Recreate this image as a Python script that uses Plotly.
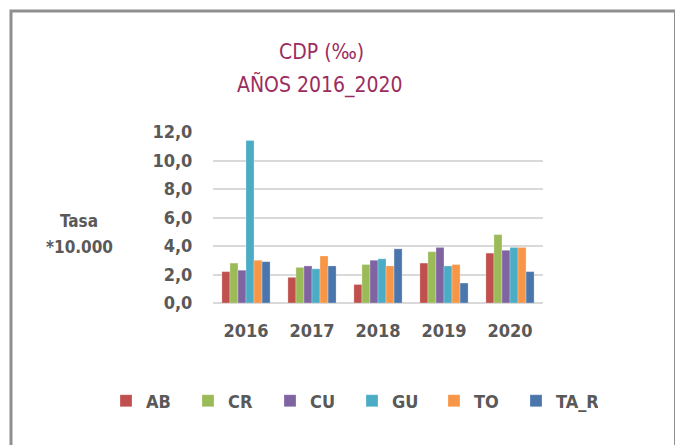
import plotly.graph_objects as go

years = ["2016", "2017", "2018", "2019", "2020"]
AB = [2.2, 1.8, 1.3, 2.8, 3.5]
CR = [2.8, 2.5, 2.7, 3.6, 4.8]
CU = [2.3, 2.6, 3.0, 3.9, 3.7]
GU = [11.4, 2.4, 3.1, 2.6, 3.9]
TO = [3.0, 3.3, 2.6, 2.7, 3.9]
TA_R = [2.9, 2.6, 3.8, 1.4, 2.2]
y_ticks = [0, 2, 4, 6, 8, 10, 12]
y_tick_labels = ["0,0", "2,0", "4,0", "6,0", "8,0", "10,0", "12,0"]

series = [("AB", AB, "#C0504D"), ("CR", CR, "#9BBB59"), ("CU", CU, "#8064A2"),
          ("GU", GU, "#4BACC6"), ("TO", TO, "#F79646"), ("TA_R", TA_R, "#4A76AB")]

FONT = "DejaVu Sans Condensed, Liberation Sans Narrow, Lato, sans-serif"
OFF = 8  # default page body margin
W, H = 683 - OFF, 445 - OFF
L, R, T, B = 213, 543, 132, 303  # plot area in screen coords
pw, ph = R - L, B - T

def px(x):
    return (x - L) / pw

def py(y):
    return (B - y) / ph

fig = go.Figure()
for name, vals, col in series:
    fig.add_trace(go.Bar(x=years, y=vals, name=name, marker_color=col,
                         marker_line=dict(color="rgba(255,255,255,0.5)", width=0.5)))

fig.update_layout(
    width=W, height=H,
    margin=dict(l=L - OFF, r=683 - R, t=T - OFF, b=445 - B, pad=0),
    paper_bgcolor="white", plot_bgcolor="white",
    barmode="group", bargap=0.27, bargroupgap=0,
    font=dict(family=FONT, color="#595959"),
    showlegend=True,
    legend=dict(orientation="h", x=px(106), y=py(401), xanchor="left", yanchor="middle",
                entrywidth=37, entrywidthmode="pixels", itemwidth=30,
                font=dict(size=18, family=FONT, color="#595959", weight="bold"),
                traceorder="normal", bgcolor="rgba(0,0,0,0)"),
    xaxis=dict(showgrid=False, showline=False, ticks="outside", ticklen=11, tickcolor="white",
               tickfont=dict(size=18, family=FONT, color="#595959", weight="bold")),
    yaxis=dict(range=[0, 12], tickvals=y_ticks, ticktext=y_tick_labels,
               showgrid=True, gridcolor="#D9D9D9", gridwidth=2,
               zeroline=True, zerolinecolor="#D9D9D9", zerolinewidth=2,
               ticks="outside", ticklen=16, tickcolor="white",
               tickfont=dict(size=18, family=FONT, color="#595959", weight="bold")),
    annotations=[
        dict(text="CDP (‰)", xref="paper", yref="paper", x=px(321), y=py(52),
             showarrow=False, xanchor="center", yanchor="middle",
             font=dict(size=21, family=FONT, color="#9B2D5E")),
        dict(text="AÑOS 2016_2020", xref="paper", yref="paper", x=px(320), y=py(84),
             showarrow=False, xanchor="center", yanchor="middle",
             font=dict(size=21, family=FONT, color="#9B2D5E")),
        dict(text="Tasa", xref="paper", yref="paper", x=px(79), y=py(221),
             showarrow=False, xanchor="center", yanchor="middle",
             font=dict(size=17, family=FONT, color="#595959", weight="bold")),
        dict(text="*10.000", xref="paper", yref="paper", x=px(79), y=py(247),
             showarrow=False, xanchor="center", yanchor="middle",
             font=dict(size=17, family=FONT, color="#595959", weight="bold")),
    ],
    shapes=[dict(type="rect", xref="paper", yref="paper",
                 x0=px(11), x1=px(675.5), y0=py(470), y1=py(11),
                 line=dict(color="#8F8F8F", width=3), fillcolor="rgba(0,0,0,0)", layer="below")],
)

fig.write_html("out.html")
